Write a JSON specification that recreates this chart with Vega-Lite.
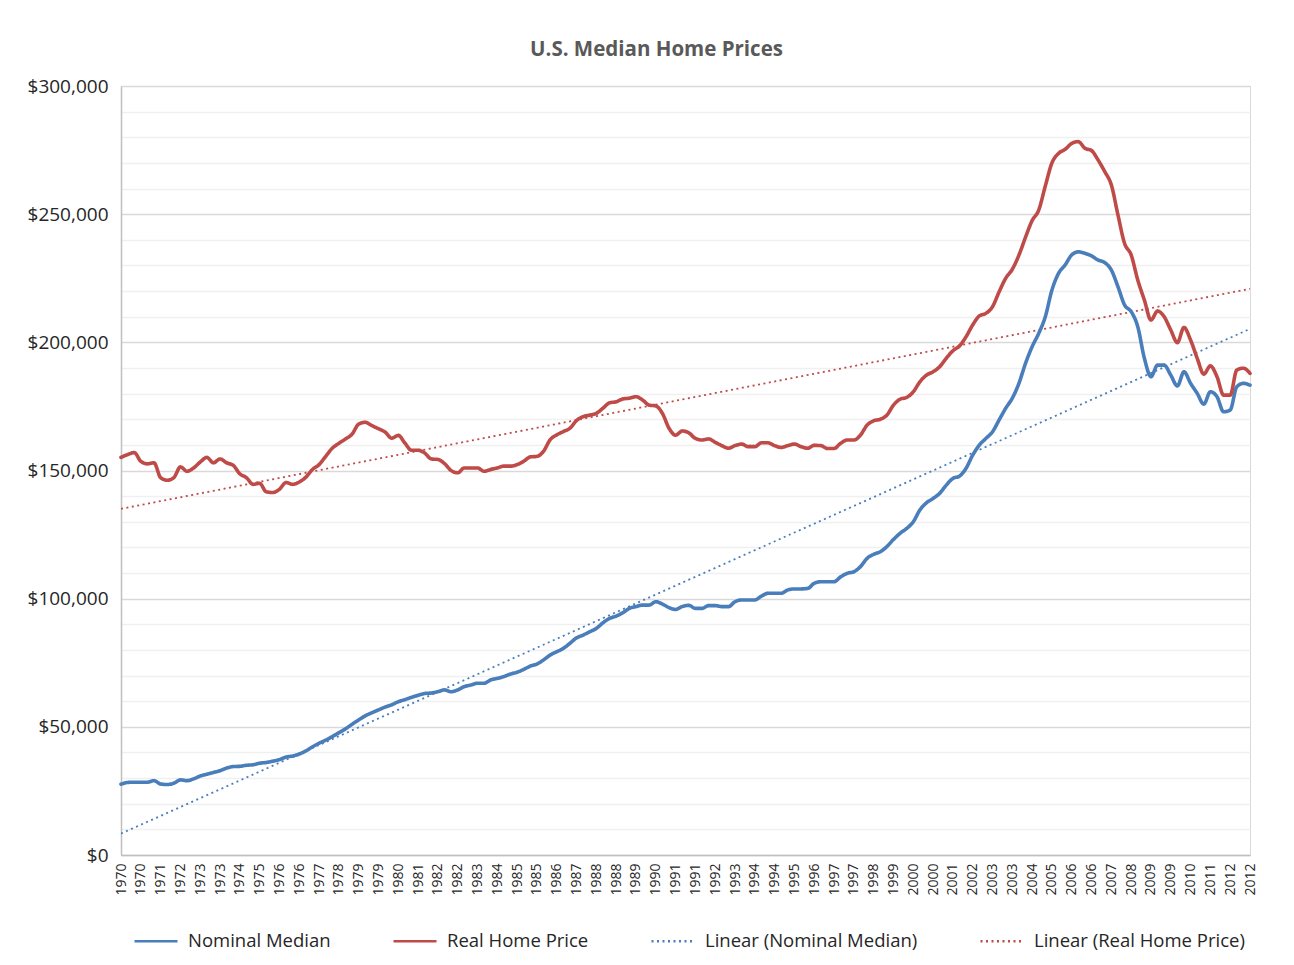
{
"$schema": "https://vega.github.io/schema/vega-lite/v6.json",
"width": 1129, "height": 769,
"autosize": "none",
"padding": {"left": 121, "top": 86, "right": 44, "bottom": 110},
"background": "white",
"title": {"text": "U.S. Median Home Prices", "fontSize": 20.5, "fontWeight": "bold", "color": "#595959", "anchor": "middle", "frame": "group", "dx": -29, "offset": 1, "baseline": "alphabetic"},
"data": {"values": [
{"t":1970,"series":"Nominal Median","value":27600},{"t":1970.25,"series":"Nominal Median","value":28300},{"t":1970.5,"series":"Nominal Median","value":28400},{"t":1970.75,"series":"Nominal Median","value":28400},
{"t":1971,"series":"Nominal Median","value":28400},{"t":1971.25,"series":"Nominal Median","value":29000},{"t":1971.5,"series":"Nominal Median","value":27700},{"t":1971.75,"series":"Nominal Median","value":27500},
{"t":1972,"series":"Nominal Median","value":28000},{"t":1972.25,"series":"Nominal Median","value":29300},{"t":1972.5,"series":"Nominal Median","value":29000},{"t":1972.75,"series":"Nominal Median","value":29700},
{"t":1973,"series":"Nominal Median","value":30800},{"t":1973.25,"series":"Nominal Median","value":31500},{"t":1973.5,"series":"Nominal Median","value":32200},{"t":1973.75,"series":"Nominal Median","value":32900},
{"t":1974,"series":"Nominal Median","value":33900},{"t":1974.25,"series":"Nominal Median","value":34500},{"t":1974.5,"series":"Nominal Median","value":34600},{"t":1974.75,"series":"Nominal Median","value":35000},
{"t":1975,"series":"Nominal Median","value":35200},{"t":1975.25,"series":"Nominal Median","value":35800},{"t":1975.5,"series":"Nominal Median","value":36100},{"t":1975.75,"series":"Nominal Median","value":36600},
{"t":1976,"series":"Nominal Median","value":37200},{"t":1976.25,"series":"Nominal Median","value":38200},{"t":1976.5,"series":"Nominal Median","value":38600},{"t":1976.75,"series":"Nominal Median","value":39400},
{"t":1977,"series":"Nominal Median","value":40600},{"t":1977.25,"series":"Nominal Median","value":42200},{"t":1977.5,"series":"Nominal Median","value":43600},{"t":1977.75,"series":"Nominal Median","value":44800},
{"t":1978,"series":"Nominal Median","value":46200},{"t":1978.25,"series":"Nominal Median","value":47700},{"t":1978.5,"series":"Nominal Median","value":49200},{"t":1978.75,"series":"Nominal Median","value":51000},
{"t":1979,"series":"Nominal Median","value":52700},{"t":1979.25,"series":"Nominal Median","value":54300},{"t":1979.5,"series":"Nominal Median","value":55500},{"t":1979.75,"series":"Nominal Median","value":56600},
{"t":1980,"series":"Nominal Median","value":57700},{"t":1980.25,"series":"Nominal Median","value":58600},{"t":1980.5,"series":"Nominal Median","value":59800},{"t":1980.75,"series":"Nominal Median","value":60600},
{"t":1981,"series":"Nominal Median","value":61500},{"t":1981.25,"series":"Nominal Median","value":62300},{"t":1981.5,"series":"Nominal Median","value":63000},{"t":1981.75,"series":"Nominal Median","value":63200},
{"t":1982,"series":"Nominal Median","value":63700},{"t":1982.25,"series":"Nominal Median","value":64400},{"t":1982.5,"series":"Nominal Median","value":63700},{"t":1982.75,"series":"Nominal Median","value":64400},
{"t":1983,"series":"Nominal Median","value":65700},{"t":1983.25,"series":"Nominal Median","value":66300},{"t":1983.5,"series":"Nominal Median","value":67000},{"t":1983.75,"series":"Nominal Median","value":67000},
{"t":1984,"series":"Nominal Median","value":68300},{"t":1984.25,"series":"Nominal Median","value":68900},{"t":1984.5,"series":"Nominal Median","value":69600},{"t":1984.75,"series":"Nominal Median","value":70600},
{"t":1985,"series":"Nominal Median","value":71300},{"t":1985.25,"series":"Nominal Median","value":72400},{"t":1985.5,"series":"Nominal Median","value":73700},{"t":1985.75,"series":"Nominal Median","value":74500},
{"t":1986,"series":"Nominal Median","value":76100},{"t":1986.25,"series":"Nominal Median","value":78000},{"t":1986.5,"series":"Nominal Median","value":79300},{"t":1986.75,"series":"Nominal Median","value":80600},
{"t":1987,"series":"Nominal Median","value":82600},{"t":1987.25,"series":"Nominal Median","value":84700},{"t":1987.5,"series":"Nominal Median","value":85800},{"t":1987.75,"series":"Nominal Median","value":87100},
{"t":1988,"series":"Nominal Median","value":88400},{"t":1988.25,"series":"Nominal Median","value":90600},{"t":1988.5,"series":"Nominal Median","value":92300},{"t":1988.75,"series":"Nominal Median","value":93200},
{"t":1989,"series":"Nominal Median","value":94500},{"t":1989.25,"series":"Nominal Median","value":96200},{"t":1989.5,"series":"Nominal Median","value":96900},{"t":1989.75,"series":"Nominal Median","value":97500},
{"t":1990,"series":"Nominal Median","value":97500},{"t":1990.25,"series":"Nominal Median","value":98800},{"t":1990.5,"series":"Nominal Median","value":97900},{"t":1990.75,"series":"Nominal Median","value":96500},
{"t":1991,"series":"Nominal Median","value":95800},{"t":1991.25,"series":"Nominal Median","value":96900},{"t":1991.5,"series":"Nominal Median","value":97400},{"t":1991.75,"series":"Nominal Median","value":96200},
{"t":1992,"series":"Nominal Median","value":96200},{"t":1992.25,"series":"Nominal Median","value":97300},{"t":1992.5,"series":"Nominal Median","value":97300},{"t":1992.75,"series":"Nominal Median","value":96900},
{"t":1993,"series":"Nominal Median","value":96900},{"t":1993.25,"series":"Nominal Median","value":98800},{"t":1993.5,"series":"Nominal Median","value":99500},{"t":1993.75,"series":"Nominal Median","value":99500},
{"t":1994,"series":"Nominal Median","value":99500},{"t":1994.25,"series":"Nominal Median","value":101000},{"t":1994.5,"series":"Nominal Median","value":102100},{"t":1994.75,"series":"Nominal Median","value":102100},
{"t":1995,"series":"Nominal Median","value":102100},{"t":1995.25,"series":"Nominal Median","value":103400},{"t":1995.5,"series":"Nominal Median","value":103800},{"t":1995.75,"series":"Nominal Median","value":103800},
{"t":1996,"series":"Nominal Median","value":104000},{"t":1996.25,"series":"Nominal Median","value":106000},{"t":1996.5,"series":"Nominal Median","value":106600},{"t":1996.75,"series":"Nominal Median","value":106600},
{"t":1997,"series":"Nominal Median","value":106600},{"t":1997.25,"series":"Nominal Median","value":108500},{"t":1997.5,"series":"Nominal Median","value":109900},{"t":1997.75,"series":"Nominal Median","value":110500},
{"t":1998,"series":"Nominal Median","value":112500},{"t":1998.25,"series":"Nominal Median","value":115700},{"t":1998.5,"series":"Nominal Median","value":117300},{"t":1998.75,"series":"Nominal Median","value":118300},
{"t":1999,"series":"Nominal Median","value":120300},{"t":1999.25,"series":"Nominal Median","value":123100},{"t":1999.5,"series":"Nominal Median","value":125500},{"t":1999.75,"series":"Nominal Median","value":127400},
{"t":2000,"series":"Nominal Median","value":130000},{"t":2000.25,"series":"Nominal Median","value":134600},{"t":2000.5,"series":"Nominal Median","value":137400},{"t":2000.75,"series":"Nominal Median","value":139100},
{"t":2001,"series":"Nominal Median","value":141100},{"t":2001.25,"series":"Nominal Median","value":144300},{"t":2001.5,"series":"Nominal Median","value":146900},{"t":2001.75,"series":"Nominal Median","value":147800},
{"t":2002,"series":"Nominal Median","value":150900},{"t":2002.25,"series":"Nominal Median","value":156000},{"t":2002.5,"series":"Nominal Median","value":159900},{"t":2002.75,"series":"Nominal Median","value":162500},
{"t":2003,"series":"Nominal Median","value":165100},{"t":2003.25,"series":"Nominal Median","value":169700},{"t":2003.5,"series":"Nominal Median","value":174300},{"t":2003.75,"series":"Nominal Median","value":178200},
{"t":2004,"series":"Nominal Median","value":184000},{"t":2004.25,"series":"Nominal Median","value":191800},{"t":2004.5,"series":"Nominal Median","value":198300},{"t":2004.75,"series":"Nominal Median","value":203500},
{"t":2005,"series":"Nominal Median","value":210000},{"t":2005.25,"series":"Nominal Median","value":220400},{"t":2005.5,"series":"Nominal Median","value":226900},{"t":2005.75,"series":"Nominal Median","value":230200},
{"t":2006,"series":"Nominal Median","value":234100},{"t":2006.25,"series":"Nominal Median","value":235300},{"t":2006.5,"series":"Nominal Median","value":234700},{"t":2006.75,"series":"Nominal Median","value":233700},
{"t":2007,"series":"Nominal Median","value":232100},{"t":2007.25,"series":"Nominal Median","value":231100},{"t":2007.5,"series":"Nominal Median","value":228200},{"t":2007.75,"series":"Nominal Median","value":221700},
{"t":2008,"series":"Nominal Median","value":214600},{"t":2008.25,"series":"Nominal Median","value":212000},{"t":2008.5,"series":"Nominal Median","value":206100},{"t":2008.75,"series":"Nominal Median","value":193800},
{"t":2009,"series":"Nominal Median","value":186600},{"t":2009.25,"series":"Nominal Median","value":191100},{"t":2009.5,"series":"Nominal Median","value":191100},{"t":2009.75,"series":"Nominal Median","value":187200},
{"t":2010,"series":"Nominal Median","value":183000},{"t":2010.25,"series":"Nominal Median","value":188500},{"t":2010.5,"series":"Nominal Median","value":184000},{"t":2010.75,"series":"Nominal Median","value":180100},
{"t":2011,"series":"Nominal Median","value":175900},{"t":2011.25,"series":"Nominal Median","value":180700},{"t":2011.5,"series":"Nominal Median","value":178800},{"t":2011.75,"series":"Nominal Median","value":172900},
{"t":2012,"series":"Nominal Median","value":173600},{"t":2012.25,"series":"Nominal Median","value":182700},{"t":2012.5,"series":"Nominal Median","value":184000},{"t":2012.75,"series":"Nominal Median","value":183300},
{"t":1970,"series":"Real Home Price","value":155100},{"t":1970.25,"series":"Real Home Price","value":156200},{"t":1970.5,"series":"Real Home Price","value":157000},{"t":1970.75,"series":"Real Home Price","value":153600},
{"t":1971,"series":"Real Home Price","value":152600},{"t":1971.25,"series":"Real Home Price","value":153000},{"t":1971.5,"series":"Real Home Price","value":147200},{"t":1971.75,"series":"Real Home Price","value":146200},
{"t":1972,"series":"Real Home Price","value":147200},{"t":1972.25,"series":"Real Home Price","value":151400},{"t":1972.5,"series":"Real Home Price","value":149700},{"t":1972.75,"series":"Real Home Price","value":151000},
{"t":1973,"series":"Real Home Price","value":153300},{"t":1973.25,"series":"Real Home Price","value":155100},{"t":1973.5,"series":"Real Home Price","value":153000},{"t":1973.75,"series":"Real Home Price","value":154500},
{"t":1974,"series":"Real Home Price","value":153000},{"t":1974.25,"series":"Real Home Price","value":152000},{"t":1974.5,"series":"Real Home Price","value":148700},{"t":1974.75,"series":"Real Home Price","value":147200},
{"t":1975,"series":"Real Home Price","value":144600},{"t":1975.25,"series":"Real Home Price","value":145000},{"t":1975.5,"series":"Real Home Price","value":141700},{"t":1975.75,"series":"Real Home Price","value":141400},
{"t":1976,"series":"Real Home Price","value":142700},{"t":1976.25,"series":"Real Home Price","value":145300},{"t":1976.5,"series":"Real Home Price","value":144600},{"t":1976.75,"series":"Real Home Price","value":145500},
{"t":1977,"series":"Real Home Price","value":147400},{"t":1977.25,"series":"Real Home Price","value":150400},{"t":1977.5,"series":"Real Home Price","value":152300},{"t":1977.75,"series":"Real Home Price","value":155500},
{"t":1978,"series":"Real Home Price","value":158700},{"t":1978.25,"series":"Real Home Price","value":160600},{"t":1978.5,"series":"Real Home Price","value":162300},{"t":1978.75,"series":"Real Home Price","value":164200},
{"t":1979,"series":"Real Home Price","value":168100},{"t":1979.25,"series":"Real Home Price","value":168800},{"t":1979.5,"series":"Real Home Price","value":167500},{"t":1979.75,"series":"Real Home Price","value":166300},
{"t":1980,"series":"Real Home Price","value":165000},{"t":1980.25,"series":"Real Home Price","value":162600},{"t":1980.5,"series":"Real Home Price","value":163700},{"t":1980.75,"series":"Real Home Price","value":160700},
{"t":1981,"series":"Real Home Price","value":157900},{"t":1981.25,"series":"Real Home Price","value":157900},{"t":1981.5,"series":"Real Home Price","value":156800},{"t":1981.75,"series":"Real Home Price","value":154500},
{"t":1982,"series":"Real Home Price","value":154300},{"t":1982.25,"series":"Real Home Price","value":152700},{"t":1982.5,"series":"Real Home Price","value":150000},{"t":1982.75,"series":"Real Home Price","value":149100},
{"t":1983,"series":"Real Home Price","value":151000},{"t":1983.25,"series":"Real Home Price","value":151000},{"t":1983.5,"series":"Real Home Price","value":151000},{"t":1983.75,"series":"Real Home Price","value":149700},
{"t":1984,"series":"Real Home Price","value":150400},{"t":1984.25,"series":"Real Home Price","value":151000},{"t":1984.5,"series":"Real Home Price","value":151700},{"t":1984.75,"series":"Real Home Price","value":151700},
{"t":1985,"series":"Real Home Price","value":152300},{"t":1985.25,"series":"Real Home Price","value":153600},{"t":1985.5,"series":"Real Home Price","value":155300},{"t":1985.75,"series":"Real Home Price","value":155500},
{"t":1986,"series":"Real Home Price","value":157500},{"t":1986.25,"series":"Real Home Price","value":162000},{"t":1986.5,"series":"Real Home Price","value":163900},{"t":1986.75,"series":"Real Home Price","value":165200},
{"t":1987,"series":"Real Home Price","value":166500},{"t":1987.25,"series":"Real Home Price","value":169500},{"t":1987.5,"series":"Real Home Price","value":171000},{"t":1987.75,"series":"Real Home Price","value":171600},
{"t":1988,"series":"Real Home Price","value":172300},{"t":1988.25,"series":"Real Home Price","value":174300},{"t":1988.5,"series":"Real Home Price","value":176400},{"t":1988.75,"series":"Real Home Price","value":176800},
{"t":1989,"series":"Real Home Price","value":177900},{"t":1989.25,"series":"Real Home Price","value":178200},{"t":1989.5,"series":"Real Home Price","value":178800},{"t":1989.75,"series":"Real Home Price","value":177500},
{"t":1990,"series":"Real Home Price","value":175500},{"t":1990.25,"series":"Real Home Price","value":175200},{"t":1990.5,"series":"Real Home Price","value":172300},{"t":1990.75,"series":"Real Home Price","value":166500},
{"t":1991,"series":"Real Home Price","value":163800},{"t":1991.25,"series":"Real Home Price","value":165400},{"t":1991.5,"series":"Real Home Price","value":164700},{"t":1991.75,"series":"Real Home Price","value":162500},
{"t":1992,"series":"Real Home Price","value":161900},{"t":1992.25,"series":"Real Home Price","value":162300},{"t":1992.5,"series":"Real Home Price","value":161000},{"t":1992.75,"series":"Real Home Price","value":159700},
{"t":1993,"series":"Real Home Price","value":158700},{"t":1993.25,"series":"Real Home Price","value":159700},{"t":1993.5,"series":"Real Home Price","value":160300},{"t":1993.75,"series":"Real Home Price","value":159300},
{"t":1994,"series":"Real Home Price","value":159300},{"t":1994.25,"series":"Real Home Price","value":160800},{"t":1994.5,"series":"Real Home Price","value":160800},{"t":1994.75,"series":"Real Home Price","value":159700},
{"t":1995,"series":"Real Home Price","value":159000},{"t":1995.25,"series":"Real Home Price","value":159700},{"t":1995.5,"series":"Real Home Price","value":160300},{"t":1995.75,"series":"Real Home Price","value":159300},
{"t":1996,"series":"Real Home Price","value":158700},{"t":1996.25,"series":"Real Home Price","value":159800},{"t":1996.5,"series":"Real Home Price","value":159700},{"t":1996.75,"series":"Real Home Price","value":158600},
{"t":1997,"series":"Real Home Price","value":158600},{"t":1997.25,"series":"Real Home Price","value":160600},{"t":1997.5,"series":"Real Home Price","value":161900},{"t":1997.75,"series":"Real Home Price","value":161900},
{"t":1998,"series":"Real Home Price","value":163800},{"t":1998.25,"series":"Real Home Price","value":167700},{"t":1998.5,"series":"Real Home Price","value":169400},{"t":1998.75,"series":"Real Home Price","value":170000},
{"t":1999,"series":"Real Home Price","value":171600},{"t":1999.25,"series":"Real Home Price","value":175500},{"t":1999.5,"series":"Real Home Price","value":177800},{"t":1999.75,"series":"Real Home Price","value":178500},
{"t":2000,"series":"Real Home Price","value":180700},{"t":2000.25,"series":"Real Home Price","value":184600},{"t":2000.5,"series":"Real Home Price","value":187200},{"t":2000.75,"series":"Real Home Price","value":188500},
{"t":2001,"series":"Real Home Price","value":190500},{"t":2001.25,"series":"Real Home Price","value":193800},{"t":2001.5,"series":"Real Home Price","value":196700},{"t":2001.75,"series":"Real Home Price","value":198600},
{"t":2002,"series":"Real Home Price","value":202200},{"t":2002.25,"series":"Real Home Price","value":206800},{"t":2002.5,"series":"Real Home Price","value":210300},{"t":2002.75,"series":"Real Home Price","value":211300},
{"t":2003,"series":"Real Home Price","value":213900},{"t":2003.25,"series":"Real Home Price","value":219700},{"t":2003.5,"series":"Real Home Price","value":225000},{"t":2003.75,"series":"Real Home Price","value":228500},
{"t":2004,"series":"Real Home Price","value":234000},{"t":2004.25,"series":"Real Home Price","value":241000},{"t":2004.5,"series":"Real Home Price","value":247500},{"t":2004.75,"series":"Real Home Price","value":251600},
{"t":2005,"series":"Real Home Price","value":261000},{"t":2005.25,"series":"Real Home Price","value":270000},{"t":2005.5,"series":"Real Home Price","value":273700},{"t":2005.75,"series":"Real Home Price","value":275300},
{"t":2006,"series":"Real Home Price","value":277600},{"t":2006.25,"series":"Real Home Price","value":278300},{"t":2006.5,"series":"Real Home Price","value":275700},{"t":2006.75,"series":"Real Home Price","value":274800},
{"t":2007,"series":"Real Home Price","value":271100},{"t":2007.25,"series":"Real Home Price","value":266600},{"t":2007.5,"series":"Real Home Price","value":261400},{"t":2007.75,"series":"Real Home Price","value":249700},
{"t":2008,"series":"Real Home Price","value":238600},{"t":2008.25,"series":"Real Home Price","value":234100},{"t":2008.5,"series":"Real Home Price","value":224300},{"t":2008.75,"series":"Real Home Price","value":216500},
{"t":2009,"series":"Real Home Price","value":208700},{"t":2009.25,"series":"Real Home Price","value":212200},{"t":2009.5,"series":"Real Home Price","value":210000},{"t":2009.75,"series":"Real Home Price","value":204800},
{"t":2010,"series":"Real Home Price","value":199900},{"t":2010.25,"series":"Real Home Price","value":205800},{"t":2010.5,"series":"Real Home Price","value":200900},{"t":2010.75,"series":"Real Home Price","value":193800},
{"t":2011,"series":"Real Home Price","value":187600},{"t":2011.25,"series":"Real Home Price","value":190800},{"t":2011.5,"series":"Real Home Price","value":186600},{"t":2011.75,"series":"Real Home Price","value":179400},
{"t":2012,"series":"Real Home Price","value":179400},{"t":2012.25,"series":"Real Home Price","value":189200},{"t":2012.5,"series":"Real Home Price","value":189900},{"t":2012.75,"series":"Real Home Price","value":187900}
]},
"encoding": {
  "x": {"field": "t", "type": "quantitative",
    "scale": {"domain": [1970, 2012.75], "nice": false, "zero": false},
    "axis": {"values": [1970,1970.75,1971.5,1972.25,1973,1973.75,1974.5,1975.25,1976,1976.75,1977.5,1978.25,1979,1979.75,1980.5,1981.25,1982,1982.75,1983.5,1984.25,1985,1985.75,1986.5,1987.25,1988,1988.75,1989.5,1990.25,1991,1991.75,1992.5,1993.25,1994,1994.75,1995.5,1996.25,1997,1997.75,1998.5,1999.25,2000,2000.75,2001.5,2002.25,2003,2003.75,2004.5,2005.25,2006,2006.75,2007.5,2008.25,2009,2009.75,2010.5,2011.25,2012,2012.75],
      "labelExpr": "floor(datum.value)", "labelAngle": -90, "labelFontSize": 14, "labelColor": "#262626",
      "ticks": false, "grid": false, "domainColor": "#bfbfbf", "domainWidth": 1.5, "labelPadding": 8,
      "title": null, "labelFlush": false, "labelOverlap": false}},
  "color": {"field": "series", "type": "nominal",
    "scale": {"domain": ["Nominal Median", "Real Home Price", "Linear (Nominal Median)", "Linear (Real Home Price)"], "range": ["#4a7ebb", "#be4b48", "#4a7ebb", "#be4b48"]},
    "legend": {"title": null, "orient": "none", "legendX": 12, "legendY": 832, "direction": "horizontal", "columns": 4, "columnPadding": 57, "symbolType": "stroke", "symbolSize": 1849, "symbolStrokeWidth": 2.5, "labelFontSize": 18.5, "labelColor": "#262626", "labelOffset": 9, "labelLimit": 400}},
  "strokeDash": {"field": "series", "type": "nominal",
    "scale": {"domain": ["Nominal Median", "Real Home Price", "Linear (Nominal Median)", "Linear (Real Home Price)"], "range": [[1, 0], [1, 0], [2, 3.5], [2, 3.5]]},
    "legend": {"title": null, "orient": "none", "legendX": 12, "legendY": 832, "direction": "horizontal", "columns": 4, "columnPadding": 57, "symbolType": "stroke", "symbolSize": 1849, "symbolStrokeWidth": 2.5, "labelFontSize": 18.5, "labelColor": "#262626", "labelOffset": 9, "labelLimit": 400}}
},
"layer": [
  {"transform": [
      {"regression": "value", "on": "t", "groupby": ["series"], "extent": [1970, 2012.75]},
      {"calculate": "'Linear (' + datum.series + ')'", "as": "series"}],
   "mark": {"type": "line", "strokeWidth": 1.8, "clip": true},
   "encoding": {"y": {"field": "value", "type": "quantitative",
      "scale": {"domain": [0, 300000], "nice": false},
      "axis": {"orient": "left", "values": [10000,20000,30000,40000,60000,70000,80000,90000,110000,120000,130000,140000,160000,170000,180000,190000,210000,220000,230000,240000,260000,270000,280000,290000],
        "labels": false, "ticks": false, "domain": false, "grid": true, "gridColor": "#f0f0f0", "gridWidth": 1.5, "title": null}}}},
  {"mark": {"type": "line", "strokeWidth": 3.6, "interpolate": "monotone", "strokeCap": "round", "strokeJoin": "round"},
   "encoding": {"y": {"field": "value", "type": "quantitative",
      "scale": {"domain": [0, 300000], "nice": false},
      "axis": {"orient": "left", "values": [0,50000,100000,150000,200000,250000,300000], "format": "$,.0f",
        "labelFontSize": 19, "labelColor": "#262626", "ticks": false, "domainColor": "#bfbfbf", "domainWidth": 1.5,
        "grid": true, "gridColor": "#d9d9d9", "gridWidth": 1.5, "labelPadding": 13, "title": null}}}}
],
"resolve": {"axis": {"y": "independent"}},
"config": {"font": "Open Sans", "view": {"stroke": "#d9d9d9", "strokeWidth": 1}}
}
